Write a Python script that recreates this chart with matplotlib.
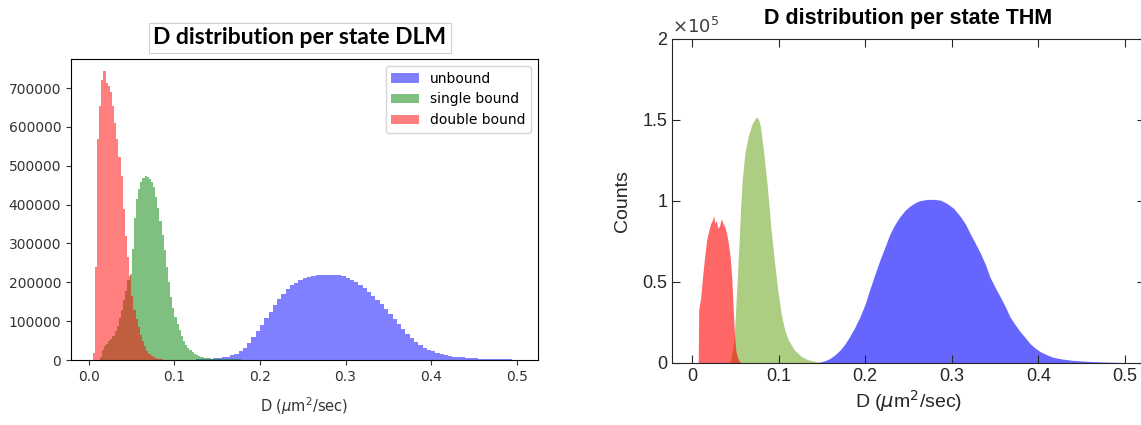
import numpy as np
import matplotlib
matplotlib.use("Agg")
import matplotlib.pyplot as plt
from matplotlib.ticker import FuncFormatter

# ---- DLM panel (histogram counts) ----
# double bound: bins of 0.0025 starting at 0.0045
dlm_red_start = 0.0045
dlm_red_counts = [17000, 240000, 570000, 655000, 720000, 745000, 714000, 705000,
                  690000, 655000, 610000, 569000, 522000, 474000, 390000, 320000,
                  265000, 215000, 165000, 130000, 105000, 85000, 65000, 48000,
                  35000, 22000, 15000, 10000, 7000, 5000, 3500, 2500, 1500, 800]
# single bound: bins of 0.0025 starting at 0.0125
dlm_green_start = 0.0125
dlm_green_counts = [9000, 25000, 35000, 42000, 48000, 55000, 63000, 75000, 88000,
                    108000, 130000, 155000, 178000, 205000, 222000, 285000, 365000,
                    415000, 440000, 458000, 468000, 473000, 472000, 466000, 458000,
                    445000, 420000, 392000, 358000, 322000, 282000, 240000, 200000,
                    163000, 135000, 112000, 93000, 76000, 61000, 48000, 39000,
                    32000, 26000, 20000, 16000, 12500, 10000, 8000, 6500, 5500,
                    4800, 4200, 3700, 3300, 3000,
                    2800, 2600, 2400, 2200, 2000, 1900, 1800, 1700, 1600, 1500,
                    1400, 1300, 1200, 1100, 1000, 900, 800, 700, 600, 550, 500,
                    450, 400, 350, 300, 250, 200, 150]
# unbound: bins of 0.005 starting at 0.09
dlm_blue_start = 0.09
dlm_blue_counts = [300, 400, 500, 600, 800, 1000, 1300, 1600, 2000, 2500, 3200,
                   4200, 5500, 7000, 9000, 12000, 16000, 23000, 32000, 44000,
                   58000, 74000, 90000, 107000, 124000, 141000, 157000, 171000,
                   183000, 192000, 199000, 205000, 210000, 213000, 216000, 218000,
                   219000, 220000, 220000, 219000, 218000, 215000, 212000, 207000,
                   201000, 194000, 186000, 176000, 166000, 155000, 143000, 131000,
                   118000, 105000, 92000, 80000, 68000, 57000, 47000, 39000, 32000,
                   27000, 22000, 18000, 15000, 12500, 10500, 9000, 7500, 6500,
                   5500, 4500, 4000, 3500, 3000, 2700, 2400, 2100, 1900, 1700,
                   1500, 1300]

# ---- THM panel (outline of the histograms) ----
thm_red_d = [0.0072, 0.0078, 0.0100, 0.0120, 0.0145, 0.0170, 0.0195, 0.0215,
             0.0235, 0.0250, 0.0265, 0.0280, 0.0300, 0.0320, 0.0340, 0.0360,
             0.0380, 0.0400, 0.0420, 0.0440, 0.0460, 0.0475, 0.0490, 0.0505,
             0.0525, 0.0545, 0.0570]
thm_red_n = [0, 33000, 40000, 52000, 65000, 76000, 82000, 86000, 88000, 91000,
             86000, 88000, 83000, 85000, 89000, 86000, 84000, 80000, 74000,
             66000, 52000, 35000, 18000, 8000, 3500, 1200, 0]

thm_green_d = [0.044, 0.048, 0.050, 0.052, 0.054, 0.056, 0.058, 0.061, 0.065,
               0.069, 0.072, 0.0751, 0.077, 0.079, 0.083, 0.087, 0.091, 0.095,
               0.099, 0.103, 0.107, 0.111, 0.118, 0.126, 0.134, 0.145, 0.152]
thm_green_n = [0, 12000, 28000, 49000, 70000, 94000, 113000, 129000, 140000,
               147000, 150000, 152000, 150000, 146000, 129000, 109000, 84000,
               63500, 45000, 30500, 20500, 14500, 8200, 4100, 2000, 600, 0]

thm_blue_d = [0.140, 0.148, 0.154, 0.159, 0.165, 0.171, 0.177, 0.182, 0.188,
              0.194, 0.200, 0.205, 0.211, 0.217, 0.223, 0.228, 0.234, 0.240,
              0.246, 0.252, 0.258, 0.263, 0.272, 0.279, 0.287, 0.294, 0.302,
              0.310, 0.316, 0.321, 0.327, 0.333, 0.339, 0.344, 0.350, 0.356,
              0.362, 0.367, 0.373, 0.379, 0.385, 0.390, 0.396, 0.402, 0.410,
              0.417, 0.428, 0.440, 0.457, 0.475, 0.500, 0.501]
thm_blue_n = [0, 600, 1500, 2700, 5000, 8000, 12000, 16300, 22000, 28600,
              36500, 45000, 54500, 63600, 71800, 79000, 85300, 90300, 94200,
              97000, 99000, 100200, 101000, 101000, 100500, 98600, 95500, 90300,
              85500, 80000, 74000, 67700, 60500, 53000, 46700, 40700, 34500,
              28600, 23700, 19300, 15500, 12100, 9300, 7000, 5000, 3500, 2400,
              1600, 1000, 600, 300, 0]

xticks = [0.0, 0.1, 0.2, 0.3, 0.4, 0.5]


def edges(start, width, counts):
    return start + width * np.arange(len(counts) + 1)


fig = plt.figure(figsize=(11.41, 4.25), dpi=100)

# ---------------- left: matplotlib-style histogram ----------------
ax1 = fig.add_axes([0.0622, 0.1529, 0.4093, 0.7082])
ax1.stairs(dlm_blue_counts, edges(dlm_blue_start, 0.005, dlm_blue_counts),
           fill=True, color='b', alpha=0.5, label='unbound')
ax1.stairs(dlm_green_counts, edges(dlm_green_start, 0.0025, dlm_green_counts),
           fill=True, color='g', alpha=0.5, label='single bound')
ax1.stairs(dlm_red_counts, edges(dlm_red_start, 0.0025, dlm_red_counts),
           fill=True, color='r', alpha=0.5, label='double bound')
ax1.set_xlim(-0.021, 0.525)
ax1.set_ylim(0, 1.04 * max(dlm_red_counts))
ax1.set_xticks(xticks)
ax1.set_yticks(np.arange(0, 800000, 100000))
ax1.yaxis.set_major_formatter(FuncFormatter(lambda v, p: f'{int(v)}'))
ax1.tick_params(labelsize=10, colors='#333333')
ax1.set_xlabel(r'D ($\mu$m$^2$/sec)', fontsize=10.5, color='#333333', labelpad=8)
ax1.legend(loc='upper right', fontsize=10)

fig.text(300 / 1141, 1 - 38 / 425, 'D distribution per state DLM',
         ha='center', va='center', fontsize=16.5, fontweight='bold',
         family='Lato',
         bbox=dict(facecolor='white', edgecolor='#d0d0d0', linewidth=0.8,
                   boxstyle='square,pad=0.2'))

# ---------------- right: MATLAB-style histogram ----------------
ax2 = fig.add_axes([0.589, 0.1459, 0.4145, 0.7624])
ax2.fill_between(thm_blue_d, thm_blue_n, color=(0, 0, 1), alpha=0.6, lw=0)
ax2.fill_between(thm_green_d, thm_green_n, color=(0.466, 0.674, 0.188),
                 alpha=0.6, lw=0)
ax2.fill_between(thm_red_d, thm_red_n, color=(1, 0, 0), alpha=0.6, lw=0)
ax2.set_xlim(-0.023, 0.523)
ax2.set_ylim(0, 200000)
ax2.set_xticks(xticks)
ax2.set_xticklabels(['0', '0.1', '0.2', '0.3', '0.4', '0.5'])
ax2.set_yticks([0, 50000, 100000, 150000, 200000])
ax2.yaxis.set_major_formatter(FuncFormatter(lambda v, p: f'{v / 1e5:g}'))
for s in ax2.spines.values():
    s.set_color('#262626')
    s.set_linewidth(0.8)
ax2.tick_params(direction='in', top=True, right=True, length=6, width=0.8,
                color='#262626', labelcolor='#262626', labelsize=13)
for lab in ax2.get_xticklabels() + ax2.get_yticklabels():
    lab.set_family('Liberation Sans')
ax2.set_xlabel(r'D ($\mu$m$^2$/sec)', fontsize=14, family='Liberation Sans',
               color='#262626', labelpad=2)
ax2.set_ylabel('Counts', fontsize=14, family='Liberation Sans',
               color='#262626', labelpad=8)
ax2.set_title('D distribution per state THM', fontsize=15.5, fontweight='bold',
              family='Liberation Sans', pad=11)
ax2.text(0.0, 1.005, r'$\times10^5$', transform=ax2.transAxes, ha='left',
         va='bottom', fontsize=13, color='#404040')

fig.savefig('out.png', dpi=100)
